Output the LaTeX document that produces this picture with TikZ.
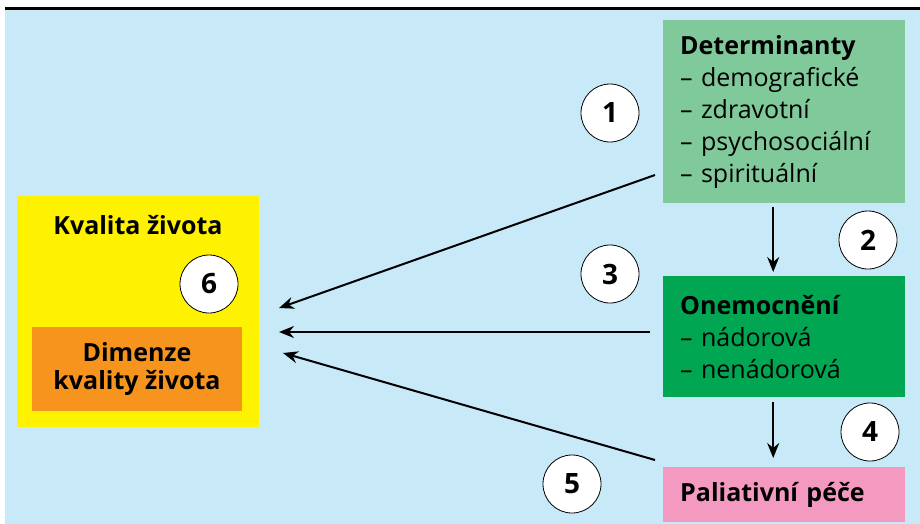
\documentclass[tikz,border=0pt]{standalone}
\usepackage{fontspec}
\setmainfont{Open Sans}
\usetikzlibrary{positioning,arrows.meta}
\definecolor{bgblue}{HTML}{C7E9F8}
\definecolor{detgreen}{HTML}{80C99A}
\definecolor{onemgreen}{HTML}{00A651}
\definecolor{palpink}{HTML}{F49AC1}
\definecolor{kvyellow}{HTML}{FFF200}
\definecolor{dimorange}{HTML}{F7941D}

\begin{document}
\begin{tikzpicture}[x=1pt,y=-1pt,>={Stealth[length=15pt,width=12pt]},
  font=\fontsize{25}{32}\selectfont,
  box/.style={anchor=north west,inner xsep=17pt,inner ysep=0pt,
    minimum width=242pt,text width=208pt,align=left},
  num/.style={circle,draw,fill=white,line width=0.8pt,minimum size=58pt,
    inner sep=0pt,font=\fontsize{28}{28}\selectfont\bfseries},
  link/.style={->,line width=2pt}]
\useasboundingbox (0,0) rectangle (920,524);
\fill[bgblue] (5,10) rectangle (920,524);
\draw[line width=3pt] (5,9) -- (920,9);

% right column
\node[box,fill=detgreen,minimum height=183pt] (det) at (663,20)
  {\textbf{Determinanty}\\ -- demografické\\ -- zdravotní\\ -- psychosociální\\ -- spirituální};
\node[box,fill=onemgreen,minimum height=121pt] (onem) at (663,276)
  {\textbf{Onemocnění}\\ -- nádorová\\ -- nenádorová};
\node[box,fill=palpink,minimum height=55pt] (pal) at (663,467)
  {\textbf{Paliativní péče}};

% left block
\node[anchor=north west,fill=kvyellow,minimum width=242pt,minimum height=231pt,
  inner sep=0pt] (kval) at (17,196) {};
\node[font=\fontsize{25}{32}\selectfont\bfseries] (kvaltxt) at (138,225) {Kvalita života};
\node[fill=dimorange,minimum width=210pt,minimum height=84pt,align=center,
  inner sep=0pt,font=\fontsize{25}{28}\selectfont\bfseries] (dim) at (137,369)
  {Dimenze\\kvality života};

% numbers
\foreach \n/\x/\y in {1/610/113,2/868/240,3/610/274,4/870/432,5/572/484,6/209/284}
  \node[num] (c\n) at (\x,\y) {\n};

% connectors
\coordinate (a1) at (655,175);
\coordinate (a3) at (650,332);
\coordinate (a5) at (655,460);
\coordinate (t1) at (279,308);
\coordinate (t3) at (279,332);
\coordinate (t5) at (283,353);
\draw[link] (a1) -- (t1);
\draw[link] (a3) -- (t3);
\draw[link] (a5) -- (t5);
\draw[link,shorten <=4pt,shorten >=4pt] ([xshift=-11pt]det.south) -- ([xshift=-11pt]onem.north);
\draw[link,shorten <=5pt,shorten >=9pt] ([xshift=-11pt]onem.south) -- ([xshift=-11pt]pal.north);
\end{tikzpicture}
\end{document}
